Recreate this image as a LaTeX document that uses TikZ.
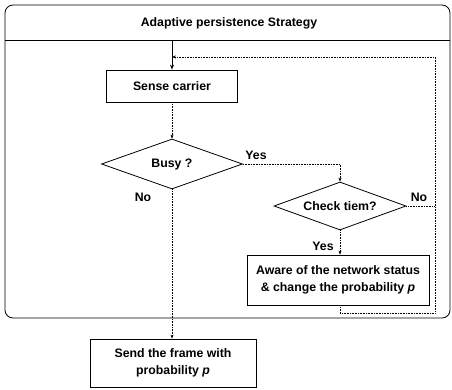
\documentclass[tikz,border=0pt]{standalone}
\usepackage{fontspec}
\setmainfont{Liberation Sans}
\usetikzlibrary{shapes.geometric,arrows.meta}
\begin{document}
\begin{tikzpicture}[x=1pt,y=-1pt,
  every node/.style={font=\fontsize{12.3}{17}\selectfont\bfseries},
  procbox/.style={draw,line width=0.8pt,rectangle,inner sep=0pt,align=center},
  decbox/.style={draw,line width=0.8pt,diamond,aspect=2.8,inner sep=0pt},
  conn/.style={densely dotted,line width=0.6pt,-{Stealth[length=4pt,width=3pt]}},
  connplain/.style={densely dotted,line width=0.6pt},
  lbl/.style={inner sep=1pt}]
\useasboundingbox (0,0) rectangle (452,389);
% outer frame
\draw[line width=0.8pt,rounded corners=8pt] (5,5) rectangle (450,318);
\draw[line width=0.8pt] (5,40) -- (450,40);
\node (title) at (229,23) {Adaptive persistence Strategy};
\coordinate (hdr) at (172,40);
% nodes
\node[procbox,minimum width=131pt,minimum height=32pt] (sense) at (172,86) {Sense carrier};
\node[decbox,minimum width=141pt,minimum height=50pt] (busy) at (172,164) {Busy ?};
\node[decbox,minimum width=132pt,minimum height=48pt] (check) at (340,206) {Check tiem?};
\node[procbox,minimum width=182pt,minimum height=50pt] (aware) at (338,280) {Aware of the network status\\\& change the probability \textit{p}};
\node[procbox,minimum width=166pt,minimum height=48pt] (send) at (173,363) {Send the frame with\\probability \textit{p}};
% labels
\node[lbl] (yes1) at (256,155) {Yes};
\node[lbl] (no1) at (143,197) {No};
\node[lbl] (no2) at (419,197) {No};
\node[lbl] (yes2) at (323,246) {Yes};
% connectors
\draw[line width=0.9pt,-{Stealth[length=5pt,width=4pt]}] (hdr) -- (sense.north);
\draw[conn] (sense.south) -- (busy.north);
\coordinate (b1) at (340,164);
\draw[conn] (busy.east) -- (b1) -- (check.north);
\draw[conn] (check.south) -- (aware.north -| check.south);
\draw[conn] (busy.south) -- (send.north -| busy.south);
\coordinate (l1) at (340,313);
\coordinate (l2) at (435,313);
\coordinate (l3) at (435,57);
\coordinate (l4) at (172,57);
\coordinate (l5) at (435,206);
\draw[conn] (aware.south -| l1) -- (l1) -- (l2) -- (l3) -- (l4);
\draw[connplain] (check.east) -- (l5);
\end{tikzpicture}
\end{document}
